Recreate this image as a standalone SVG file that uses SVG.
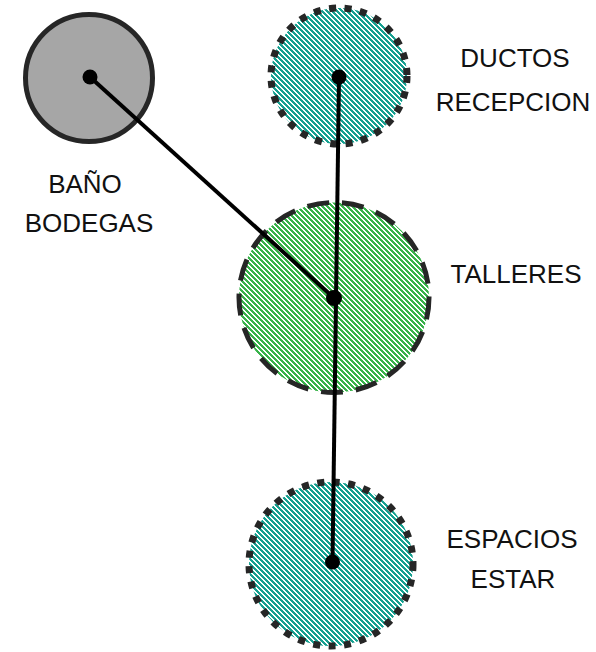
<svg xmlns="http://www.w3.org/2000/svg" width="596" height="652" viewBox="0 0 596 652">
<defs>
<pattern id="hTeal" width="5" height="5" patternUnits="userSpaceOnUse">
<rect width="5" height="5" fill="#ffffff"/>
<path d="M0 0h3v1H0zM1 1h3v1H1zM2 2h3v1H2zM3 3h2v1H3zM0 3h1v1H0zM4 4h1v1H4zM0 4h2v1H0z" fill="#16a190" shape-rendering="crispEdges"/>
</pattern>
<pattern id="hGreen" width="5" height="5" patternUnits="userSpaceOnUse">
<rect width="5" height="5" fill="#ffffff"/>
<path d="M0 0h3v1H0zM1 1h3v1H1zM2 2h3v1H2zM3 3h2v1H3zM0 3h1v1H0zM4 4h1v1H4zM0 4h2v1H0z" fill="#38b34a" shape-rendering="crispEdges"/>
</pattern>
</defs>
<style>
.lbl{font-family:"Liberation Sans",Arial,sans-serif;font-size:26px;fill:#111;text-anchor:middle}
.dot{stroke:#262626;stroke-width:7;stroke-dasharray:7 8.5;fill:url(#hTeal)}
.dash{stroke:#262626;stroke-width:5;stroke-dasharray:22 13;fill:url(#hGreen)}
.edge{stroke:#000;stroke-width:4;fill:none}
.hub{fill:#000}
</style>
<rect width="596" height="652" fill="#fff"/>
<g id="bano">
<circle cx="89" cy="78" r="63.5" fill="#a6a6a6" stroke="#262626" stroke-width="5"/>
<text class="lbl" x="85" y="193">BAÑO</text>
<text class="lbl" x="89" y="232">BODEGAS</text>
</g>
<g id="ductos">
<circle class="dot" cx="339" cy="76" r="68"/>
<text class="lbl" x="515" y="67">DUCTOS</text>
<text class="lbl" x="513" y="111">RECEPCION</text>
</g>
<g id="talleres">
<circle class="dash" cx="334" cy="297.5" r="95"/>
<text class="lbl" x="516" y="283">TALLERES</text>
</g>
<g id="espacios">
<circle class="dot" cx="331" cy="564" r="82"/>
<text class="lbl" x="512" y="548">ESPACIOS</text>
<text class="lbl" x="513" y="588">ESTAR</text>
</g>
<g id="connectors">
<line class="edge" x1="90" y1="77" x2="334" y2="298"/>
<line class="edge" x1="339" y1="77" x2="332.5" y2="562"/>
<circle class="hub" cx="90" cy="77" r="7.5"/>
<circle class="hub" cx="339" cy="77" r="7.5"/>
<circle class="hub" cx="334" cy="298" r="8"/>
<circle class="hub" cx="332.5" cy="562" r="7.5"/>
</g>
</svg>
